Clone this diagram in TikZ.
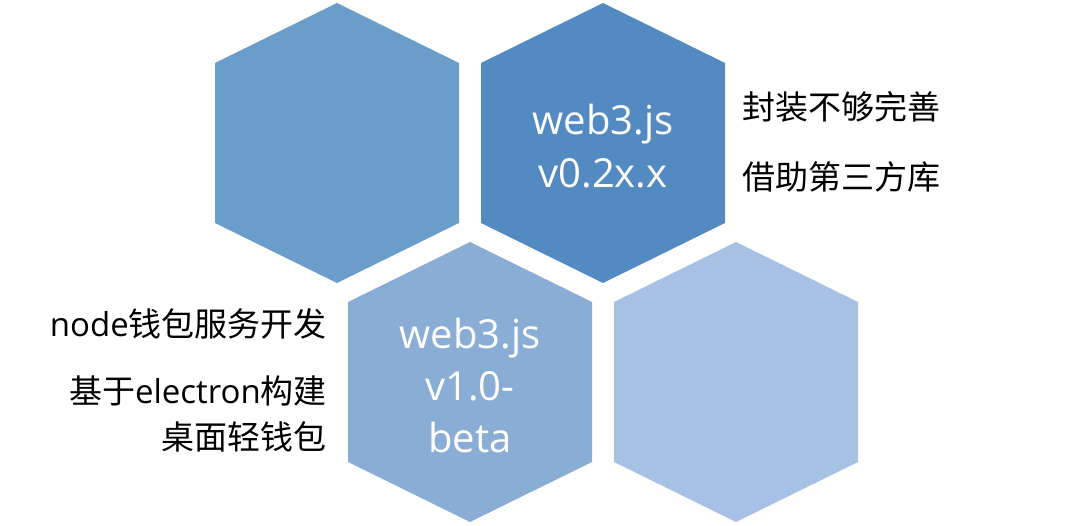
\documentclass[tikz,border=0pt]{standalone}
\usepackage{fontspec}
\setmainfont{Open Sans}
\newfontfamily\cjk{Noto Sans CJK SC}
\definecolor{hexA}{HTML}{6B9DCB}
\definecolor{hexB}{HTML}{538AC2}
\definecolor{hexC}{HTML}{8AADD6}
\definecolor{hexD}{HTML}{A6C1E3}
\tikzset{
  pics/hexa/.style={code={
    \fill[#1] (0,-140) -- (122,-80) -- (122,80) -- (0,140) -- (-122,80) -- (-122,-80) -- cycle;
  }},
  hextext/.style={anchor=base, inner sep=0pt, text=white, font=\fontsize{40}{48}\selectfont},
  sidetext/.style={inner sep=0pt, text=black, font=\fontsize{33}{40}\selectfont},
}
\begin{document}
\begin{tikzpicture}[x=1pt,y=-1pt]
\useasboundingbox (0,0) rectangle (1080,526);
\coordinate (tl) at (337,143);
\coordinate (tr) at (603,143);
\coordinate (bm) at (470,382);
\coordinate (br) at (736,382);
\pic at (tl) {hexa=hexA};
\pic at (tr) {hexa=hexB};
\pic at (bm) {hexa=hexC};
\pic at (br) {hexa=hexD};
% hexagon labels
\node[hextext] (tr1) at (603,134.5) {web3.js};
\node[hextext] (tr2) at (603,187.5) {v0.2x.x};
\node[hextext] (bm1) at (470,349) {web3.js};
\node[hextext] (bm2) at (470,401) {v1.0-};
\node[hextext] (bm3) at (470,453) {beta};
% right side texts
\node[sidetext, anchor=base west] (r1) at (742,120) {\cjk 封装不够完善};
\node[sidetext, anchor=base west] (r2) at (742,190) {\cjk 借助第三方库};
% left side texts
\node[sidetext, anchor=base east] (l1) at (327,336.5) {node{\cjk 钱包服务开发}};
\node[sidetext, anchor=base east] (l2) at (327,403.5) {{\cjk 基于}electron{\cjk 构建}};
\node[sidetext, anchor=base east] (l3) at (327,449.5) {\cjk 桌面轻钱包};
\end{tikzpicture}
\end{document}
